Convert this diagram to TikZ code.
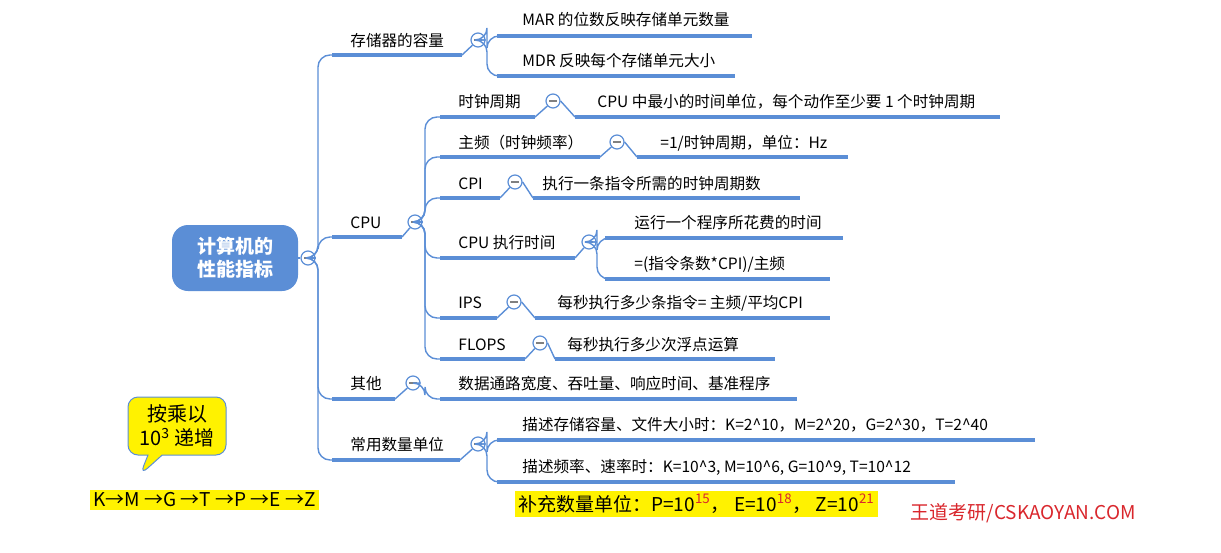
\documentclass[tikz,border=0pt]{standalone}
\usepackage{fontspec}
\setmainfont{Noto Sans CJK SC}
\usetikzlibrary{shapes.callouts}
\definecolor{mapblue}{HTML}{5B8ED6}
\definecolor{markred}{HTML}{D9262C}
\tikzset{
  bar/.style={mapblue,line width=2pt},
  conn/.style={mapblue,line width=0.7pt,rounded corners=6pt},
  label/.style={anchor=base west,inner sep=0pt,font=\fontsize{7.8}{9}\selectfont},
  fold/.style={circle,draw=mapblue,line width=0.6pt,fill=white,minimum size=7pt,inner sep=0pt,
    path picture={\draw[gray,line width=0.6pt] ([xshift=-2pt]path picture bounding box.center) -- ([xshift=2pt]path picture bounding box.center);}},
  hilite/.style={fill=yellow,inner sep=1.5pt,font=\fontsize{9}{10}\selectfont}
}
\begin{document}
\begin{tikzpicture}[x=0.5pt,y=-0.5pt]
\useasboundingbox (0,0) rectangle (1221,552);
% root
\node[rounded corners=8pt,fill=mapblue,text=white,minimum width=63pt,minimum height=33pt,
  align=center,font=\fontsize{9.5}{11.5}\selectfont\bfseries] (root) at (235,258) {计算机的\\性能指标};
\node[fold] (rootf) at (308,258) {};
\draw[mapblue,line width=0.7pt] (root.east) -- (rootf);
% level 1 bars
\draw[bar] (332,55) coordinate (capa) -- (462,55) coordinate (capb);
\draw[bar] (332,237) coordinate (cpua) -- (402,237) coordinate (cpub);
\draw[bar] (332,399) coordinate (otha) -- (395,399) coordinate (othb);
\draw[bar] (332,460) coordinate (unia) -- (460,460) coordinate (unib);
\node[label] (cap) at (350,46) {存储器的容量};
\node[label] (cpu) at (350,228) {CPU};
\node[label] (oth) at (350,389) {其他};
\node[label] (uni) at (350,450) {常用数量单位};
\foreach \n in {cap,cpu,oth,uni}
  \draw[conn] (rootf.east) -- (318,258) |- (\n a);
\node[fold] (capf) at (478,40) {};
\node[fold] (cpuf) at (415,222) {};
\node[fold] (othf) at (413,383) {};
\node[fold] (unif) at (478,444) {};
\draw[mapblue,line width=0.7pt] (capb) -- (capf) (cpub) -- (cpuf) (othb) -- (othf) (unib) -- (unif);
% storage
\draw[bar] (497,36) coordinate (mara) -- (752,36);
\draw[bar] (497,76) coordinate (mdra) -- (735,76);
\node[label] (mar) at (522,25) {MAR 的位数反映存储单元数量};
\node[label] (mdr) at (522,66) {MDR 反映每个存储单元大小};
\foreach \n in {mar,mdr} \draw[conn] (capf.east) -- (487,40) |- (\n a);
% CPU children
\draw[bar] (440,117) coordinate (clka) -- (535,117) coordinate (clkb);
\draw[bar] (440,157) coordinate (freqa) -- (600,157) coordinate (freqb);
\draw[bar] (440,198) coordinate (cpia) -- (500,198) coordinate (cpib);
\draw[bar] (440,258) coordinate (exea) -- (575,258) coordinate (exeb);
\draw[bar] (440,318) coordinate (ipsa) -- (497,318) coordinate (ipsb);
\draw[bar] (440,359) coordinate (flpa) -- (525,359) coordinate (flpb);
\node[label] (clk) at (458,107) {时钟周期};
\node[label] (freq) at (458,148) {主频（时钟频率）};
\node[label] (cpi) at (458,189) {CPI};
\node[label] (exe) at (458,248) {CPU 执行时间};
\node[label] (ips) at (458,308) {IPS};
\node[label] (flp) at (458,350) {FLOPS};
\foreach \n in {clk,freq,cpi,exe,ips,flp}
  \draw[conn] (cpuf.east) -- (425,222) |- (\n a);
\node[fold] (clkf) at (553,101) {};
\node[fold] (freqf) at (617,142) {};
\node[fold] (cpif) at (515,182) {};
\node[fold] (exef) at (589,242) {};
\node[fold] (ipsf) at (514,302) {};
\node[fold] (flpf) at (540,343) {};
\foreach \n in {clk,freq,cpi,exe,ips,flp}
  \draw[mapblue,line width=0.7pt] (\n b) -- (\n f);
\draw[bar] (575,117) coordinate (clkda) -- (1000,117);
\draw[bar] (637,157) coordinate (freqda) -- (848,157);
\draw[bar] (533,198) coordinate (cpida) -- (800,198);
\draw[bar] (605,238) coordinate (exeda) -- (843,238);
\draw[bar] (605,279) coordinate (exeea) -- (830,279);
\draw[bar] (535,318) coordinate (ipsda) -- (830,318);
\draw[bar] (555,359) coordinate (flpda) -- (775,359);
\node[label] (clkd) at (597,107) {CPU 中最小的时间单位，每个动作至少要 1 个时钟周期};
\node[label] (freqd) at (660,148) {=1/时钟周期，单位：Hz};
\node[label] (cpid) at (542,189) {执行一条指令所需的时钟周期数};
\node[label] (exed) at (634,228) {运行一个程序所花费的时间};
\node[label] (exee) at (634,269) {=(指令条数*CPI)/主频};
\node[label] (ipsd) at (557,308) {每秒执行多少条指令= 主频/平均CPI};
\node[label] (flpd) at (567,350) {每秒执行多少次浮点运算};
\draw[mapblue,line width=0.7pt] (clkf.east) -- (clkda) (freqf.east) -- (freqda)
  (cpif.east) -- (cpida) (ipsf.east) -- (ipsda) (flpf.east) -- (flpda);
\foreach \n in {exed,exee} \draw[conn] (exef.east) -- (597,242) |- (\n a);
% other
\draw[bar] (440,399) coordinate (othda) -- (797,399);
\node[label] (othd) at (458,389) {数据通路宽度、吞吐量、响应时间、基准程序};
\draw[conn] (othf.east) -- (425,383) |- (othda);
% units
\draw[bar] (497,440) coordinate (unida) -- (1035,440);
\draw[bar] (497,482) coordinate (uniea) -- (955,482);
\node[label] (unid) at (522,430) {描述存储容量、文件大小时：K=2\^{}10，M=2\^{}20，G=2\^{}30，T=2\^{}40};
\node[label] (unie) at (522,472) {描述频率、速率时：K=10\^{}3, M=10\^{}6, G=10\^{}9, T=10\^{}12};
\foreach \n in {unid,unie} \draw[conn] (unif.east) -- (487,444) |- (\n a);
% notes
\node[hilite,anchor=west,font=\fontsize{9.5}{11}\selectfont] (extra) at (515,504)
  {补充数量单位：P=10\textsuperscript{\textcolor{markred}{15}}， E=10\textsuperscript{\textcolor{markred}{18}}， Z=10\textsuperscript{\textcolor{markred}{21}}};
\node[anchor=east,text=markred,inner sep=0pt,font=\fontsize{9.5}{11}\selectfont] (brand) at (1136,513) {王道考研/CSKAOYAN.COM};
\node[hilite,anchor=west,font=\fontsize{9.5}{11}\selectfont] (chain) at (90,500) {K→M →G →T →P →E →Z};
\node[rectangle callout,rounded corners=5pt,fill=yellow,draw=mapblue,line width=0.5pt,align=center,
  minimum width=49pt,minimum height=29pt,inner sep=1pt,callout absolute pointer={(140,475)},
  font=\fontsize{10}{12}\selectfont] (tip) at (177,426) {按乘以\\10\textsuperscript{3} 递增};
\end{tikzpicture}
\end{document}
